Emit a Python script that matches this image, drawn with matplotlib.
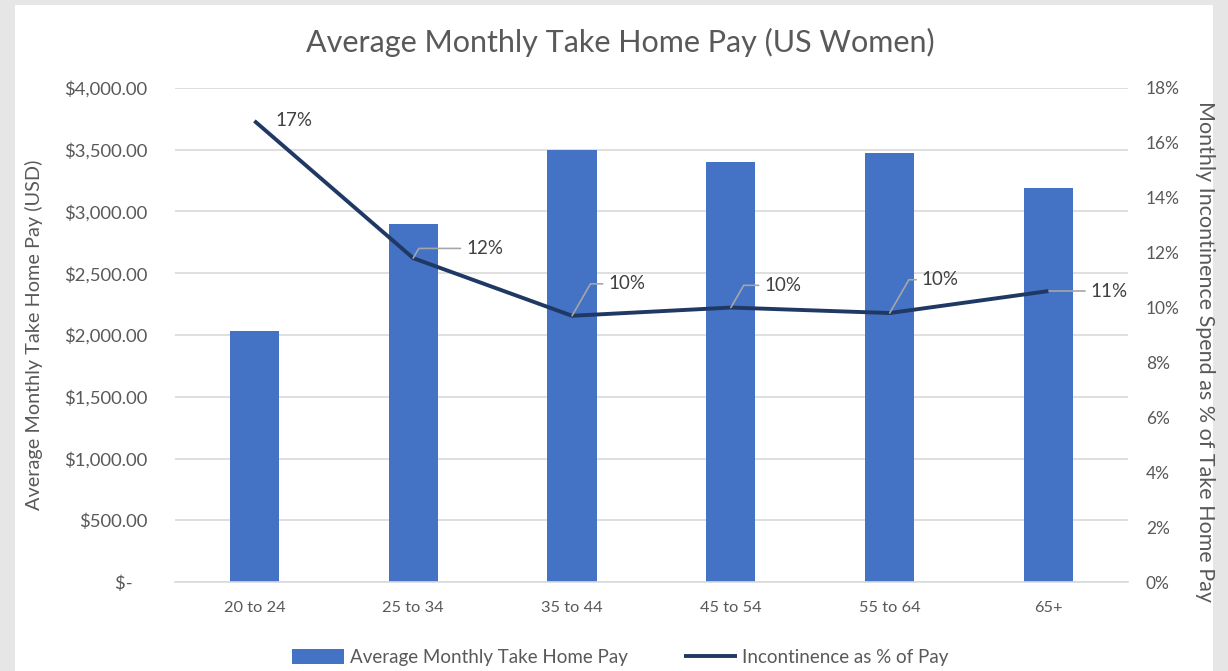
import matplotlib
matplotlib.use('Agg')
import matplotlib.pyplot as plt
from matplotlib.patches import Rectangle
import numpy as np

plt.rcParams['font.family'] = ['Lato', 'DejaVu Sans']

# Data
age_groups = ['20 to 24', '25 to 34', '35 to 44', '45 to 54', '55 to 64', '65+']
take_home_pay = [2030, 2900, 3500, 3400, 3470, 3190]
incontinence_pct = [16.8, 11.8, 9.7, 10.0, 9.8, 10.6]
pct_labels = ['17%', '12%', '10%', '10%', '10%', '11%']

pay_ticks = [0, 500, 1000, 1500, 2000, 2500, 3000, 3500, 4000]
pct_ticks = [0, 2, 4, 6, 8, 10, 12, 14, 16, 18]

bar_color = '#4472C4'
line_color = '#1F3864'
text_gray = '#595959'
grid_gray = '#D9D9D9'

fig = plt.figure(figsize=(12.28, 6.71), dpi=100)
fig.patch.set_facecolor('#E6E6E6')
# white chart panel
fig.add_artist(Rectangle((15/1228, 0), (1213-15)/1228, 1 - 5/671,
                         transform=fig.transFigure, facecolor='white',
                         edgecolor='none', zorder=-1))

ax = fig.add_axes([0.1425, 0.1326, 0.776, 0.7363])
ax.set_facecolor('none')
x = np.arange(len(age_groups))

ax.bar(x, take_home_pay, width=0.31, color=bar_color, zorder=2,
       label='Average Monthly Take Home Pay')
ax.set_xlim(-0.5, len(age_groups) - 0.5)
ax.set_ylim(0, 4000)
ax.set_yticks(pay_ticks)
ax.set_yticklabels(['$-   ' if v == 0 else f'${v:,.2f}' for v in pay_ticks])
ax.set_xticks(x)
ax.set_xticklabels(age_groups)
ax.grid(axis='y', color=grid_gray, linewidth=1.2, zorder=0)
ax.set_axisbelow(True)
for s in ['top', 'right', 'left']:
    ax.spines[s].set_visible(False)
ax.spines['bottom'].set_color(grid_gray)
ax.spines['bottom'].set_linewidth(1.2)
ax.tick_params(axis='both', length=0, colors=text_gray)
ax.tick_params(axis='y', pad=20, labelsize=13.3)
ax.tick_params(axis='x', pad=14, labelsize=11.8)
ax.set_ylabel('Average Monthly Take Home Pay (USD)', color=text_gray,
              fontsize=14.3, va='center')
ax.yaxis.set_label_coords(-0.148, 0.5)

ax2 = ax.twinx()
ax2.plot(x, incontinence_pct, color=line_color, linewidth=2.8, zorder=3,
         label='Incontinence as % of Pay', solid_capstyle='butt')
ax2.set_ylim(0, 18)
ax2.set_yticks(pct_ticks)
ax2.set_yticklabels([f'{v}%' for v in pct_ticks])
for s in ax2.spines.values():
    s.set_visible(False)
ax2.tick_params(axis='y', length=0, colors=text_gray, labelsize=12.5, pad=13)
ax2.set_ylabel('Monthly Incontinence Spend as % of Take Home Pay',
               color=text_gray, fontsize=15.5, rotation=-90, va='center')
ax2.yaxis.set_label_coords(1.081, 0.466)

# data labels with leader lines (offsets in points)
offsets = [(15, 0), (38, 7), (26, 23), (24, 16), (23, 24), (30, 0)]
leaders = [False, True, True, True, True, True]
for i, (val, lab) in enumerate(zip(incontinence_pct, pct_labels)):
    dx, dy = offsets[i]
    props = None
    if leaders[i]:
        props = dict(arrowstyle='-', color='#A6A6A6', linewidth=1.2,
                     shrinkA=2, shrinkB=0,
                     connectionstyle='angle,angleA=0,angleB=60,rad=0')
    ax2.annotate(lab, xy=(i, val), xytext=(dx, dy), textcoords='offset points',
                 ha='left', va='center', fontsize=13.5, color='#404040',
                 arrowprops=props, zorder=4)

fig.suptitle('Average Monthly Take Home Pay (US Women)', x=0.505, y=0.958,
             fontsize=22, color=text_gray)

h1, l1 = ax.get_legend_handles_labels()
h2, l2 = ax2.get_legend_handles_labels()
fig.legend(h1 + h2, l1 + l2, loc='center', bbox_to_anchor=(0.505, 0.02),
           ncol=2, frameon=False, fontsize=13.5, labelcolor=text_gray,
           handlelength=2.8, handleheight=0.8, columnspacing=3.0,
           handletextpad=0.3)

fig.savefig('out.png', dpi=100)
